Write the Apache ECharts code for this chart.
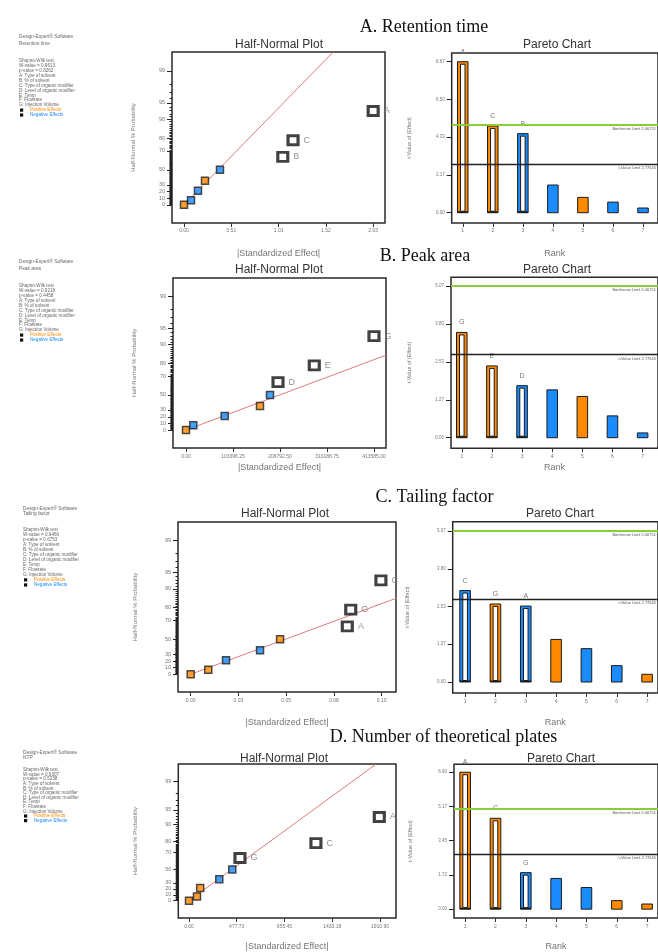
<!DOCTYPE html>
<html><head><meta charset="utf-8"><title>Half-normal and Pareto charts</title>
<script src="https://cdn.jsdelivr.net/npm/echarts@6.0.0/dist/echarts.min.js"></script>
<style>html,body{margin:0;padding:0;background:#fff;}#chart{width:658px;height:952px;}</style>
</head><body><div id="chart"></div>
<script>
// ================= DATA =================
const sectionTitles = ['A. Retention time', 'B. Peak area', 'C. Tailing factor', 'D. Number of theoretical plates'];
const responseNames = ['Retention time', 'Peak area', 'Tailing factor', 'NTP'];
const factorNames = ['A: Type of solvent', 'B: % of solvent', 'C: Type of organic modifier', 'D: Level of organic modifier', 'E: Temp', 'F: Flowrate', 'G: Injection Volume'];
const shapiroW = ['0.9613', '0.9218', '0.9466', '0.9307'];
const shapiroP = ['0.8262', '0.4458', '0.6753', '0.5238'];

const hnProbTicks = [0, 10, 20, 30, 50, 70, 80, 90, 95, 99];
const ranks = [1, 2, 3, 4, 5, 6, 7];
const tLimit = 2.77645;
const bonferroniLimit = 5.06751;
const selectedTerms = 3;

// A. Retention time
const hnEffectA = [0, 0.075, 0.15, 0.225, 0.386, 1.06, 1.17, 2.03];
const hnProbA = [0, 7.1, 21.4, 35.7, 50, 64.3, 78.6, 92.9];
const hnSignA = ['+', '-', '-', '+', '-', '-', '+', '+'];
const hnNameA = ['', '', '', '', '', 'B', 'C', 'A'];
const hnFitLineA = [[0, 0], [1.6, 99.67]];
const hnTickLabelsA = ['0.00', '0.51', '1.01', '1.52', '2.03'];
const hnTickStepA = 0.5075;
const paretoValueA = [8.67, 4.98, 4.54, 1.59, 0.88, 0.61, 0.27];
const paretoSignA = ['+', '+', '-', '-', '+', '-', '-'];
const paretoNameA = ['A', 'C', 'B', '', '', '', ''];
const paretoTickLabelsA = ['0.00', '2.17', '4.33', '6.50', '8.67'];
const paretoTickStepA = 2.1675;

// B. Peak area
const hnEffectB = [0, 16100, 85100, 162800, 184800, 202400, 282200, 413585];
const hnProbB = [0, 7.1, 21.4, 35.7, 50, 64.3, 78.6, 92.9];
const hnSignB = ['+', '-', '-', '+', '-', '-', '+', '+'];
const hnNameB = ['', '', '', '', '', 'D', 'E', 'G'];
const hnFitLineB = [[0, 0], [440000, 85.0]];
const hnTickLabelsB = ['0.00', '103396.25', '206792.50', '310188.75', '413585.00'];
const hnTickStepB = 103396.25;
const paretoValueB = [3.52, 2.40, 1.74, 1.60, 1.38, 0.73, 0.16];
const paretoSignB = ['+', '+', '-', '-', '+', '-', '-'];
const paretoNameB = ['G', 'E', 'D', '', '', '', ''];
const paretoTickLabelsB = ['0.00', '1.27', '2.53', '3.80', '5.07'];
const paretoTickStepB = 1.2675;

// C. Tailing factor
const hnEffectC = [0, 0.0092, 0.0185, 0.0363, 0.0468, 0.082, 0.0838, 0.0996];
const hnProbC = [0, 7.1, 21.4, 35.7, 50, 64.3, 78.6, 92.9];
const hnSignC = ['+', '+', '-', '-', '+', '-', '+', '-'];
const hnNameC = ['', '', '', '', '', 'A', 'G', 'C'];
const hnFitLineC = [[0, 0], [0.108, 85.8]];
const hnTickLabelsC = ['0.00', '0.03', '0.05', '0.08', '0.10'];
const hnTickStepC = 0.025;
const paretoValueC = [3.07, 2.62, 2.55, 1.43, 1.12, 0.55, 0.26];
const paretoSignC = ['-', '+', '-', '+', '-', '-', '+'];
const paretoNameC = ['C', 'G', 'A', '', '', '', ''];
const paretoTickLabelsC = ['0.00', '1.27', '2.53', '3.80', '5.07'];
const paretoTickStepC = 1.2675;

// D. Number of theoretical plates
const hnEffectD = [0, 80, 112, 303, 433, 510, 1270, 1904];
const hnProbD = [0, 7.1, 21.4, 35.7, 50, 64.3, 78.6, 92.9];
const hnSignD = ['+', '+', '+', '-', '-', '-', '+', '+'];
const hnNameD = ['', '', '', '', '', 'G', 'C', 'A'];
const hnFitLineD = [[0, 0], [1871, 99.68]];
const hnTickLabelsD = ['0.00', '477.73', '955.45', '1433.18', '1910.90'];
const hnTickStepD = 477.725;
const paretoValueD = [6.90, 4.58, 1.84, 1.55, 1.09, 0.43, 0.26];
const paretoSignD = ['+', '+', '-', '-', '-', '+', '+'];
const paretoNameD = ['A', 'C', 'G', '', '', '', ''];
const paretoTickLabelsD = ['0.00', '1.72', '3.45', '5.17', '6.90'];
const paretoTickStepD = 1.725;

// ================= BUILD =================
const rows = [
  {hnEffect: hnEffectA, hnProb: hnProbA, hnSign: hnSignA, hnName: hnNameA, hnLine: hnFitLineA, hnTickLabels: hnTickLabelsA, hnTickStep: hnTickStepA,
   parValue: paretoValueA, parSign: paretoSignA, parName: paretoNameA, parTickLabels: paretoTickLabelsA, parTickStep: paretoTickStepA},
  {hnEffect: hnEffectB, hnProb: hnProbB, hnSign: hnSignB, hnName: hnNameB, hnLine: hnFitLineB, hnTickLabels: hnTickLabelsB, hnTickStep: hnTickStepB,
   parValue: paretoValueB, parSign: paretoSignB, parName: paretoNameB, parTickLabels: paretoTickLabelsB, parTickStep: paretoTickStepB},
  {hnEffect: hnEffectC, hnProb: hnProbC, hnSign: hnSignC, hnName: hnNameC, hnLine: hnFitLineC, hnTickLabels: hnTickLabelsC, hnTickStep: hnTickStepC,
   parValue: paretoValueC, parSign: paretoSignC, parName: paretoNameC, parTickLabels: paretoTickLabelsC, parTickStep: paretoTickStepC},
  {hnEffect: hnEffectD, hnProb: hnProbD, hnSign: hnSignD, hnName: hnNameD, hnLine: hnFitLineD, hnTickLabels: hnTickLabelsD, hnTickStep: hnTickStepD,
   parValue: paretoValueD, parSign: paretoSignD, parName: paretoNameD, parTickLabels: paretoTickLabelsD, parTickStep: paretoTickStepD}
];

const layout = [
  { hn: {left: 172, top: 52, right: 385, bottom: 223, xMin: -0.129, xMax: 2.157, yMin: -0.35, yMax: 2.94, yNameGap: 36, xNameGap: 26, xLabelMargin: 5},
    par: {left: 451.7, top: 53, bottom: 223, xMin: 0.632, xMax: 7.499, yMin: -0.59, yMax: 9.17, yNameGap: 39, xNameGap: 26, xLabelMargin: 5},
    hnTitle: [279, 45], parTitle: [557, 45], title: [424, 27], legend: {x: 19, y0: 36.7, y1: 44, yS: 60.7, step: 4.94} },
  { hn: {left: 173, top: 278, right: 386, bottom: 448, xMin: -28600, xMax: 440000, yMin: -0.346, yMax: 2.923, yNameGap: 36, xNameGap: 15, xLabelMargin: 6},
    par: {left: 451, top: 277.3, bottom: 448.3, xMin: 0.642, xMax: 7.51, yMin: -0.354, yMax: 5.364, yNameGap: 39, xNameGap: 15, xLabelMargin: 6},
    hnTitle: [279, 270], parTitle: [557, 270], title: [425, 256], legend: {x: 19, y0: 261.7, y1: 269, yS: 285.7, step: 4.94} },
  { hn: {left: 178, top: 522, right: 396, bottom: 692, xMin: -0.00665, xMax: 0.1075, yMin: -0.341, yMax: 2.93, yNameGap: 40, xNameGap: 25.7, xLabelMargin: 6},
    par: {left: 452.7, top: 521.7, bottom: 693, xMin: 0.591, xMax: 7.36, yMin: -0.369, yMax: 5.383, yNameGap: 42, xNameGap: 25, xLabelMargin: 6},
    hnTitle: [285, 514], parTitle: [560, 514], title: [434.5, 497], legend: {x: 23, y0: 508.3, y1: 514, yS: 529.3, step: 5.06} },
  { hn: {left: 178.3, top: 764, right: 396, bottom: 921, xMin: -107, xMax: 2071, yMin: -0.375, yMax: 2.95, yNameGap: 40, xNameGap: 24, xLabelMargin: 6},
    par: {left: 454, top: 764.3, bottom: 921, xMin: 0.632, xMax: 7.36, yMin: -0.445, yMax: 7.30, yNameGap: 41, xNameGap: 24, xLabelMargin: 6},
    hnTitle: [284, 759], parTitle: [561, 759], title: [443.5, 737.5], legend: {x: 23, y0: 752.7, y1: 757.3, yS: 770, step: 4.6} }
];
const PAR_RIGHT = 668;

const POS = '#FF8A00', NEG = '#1A8CFF';
const SANS = '"Liberation Sans", Arial, sans-serif';
const SERIF = '"Liberation Serif", "Times New Roman", serif';
const SMALL = '#777';

// inverse standard normal CDF (Acklam)
function probit(p) {
  const a = [-3.969683028665376e+01, 2.209460984245205e+02, -2.759285104469687e+02, 1.383577518672690e+02, -3.066479806614716e+01, 2.506628277459239e+00];
  const b = [-5.447609879822406e+01, 1.615858368580409e+02, -1.556989798598866e+02, 6.680131188771972e+01, -1.328068155288572e+01];
  const c = [-7.784894002430293e-03, -3.223964580411365e-01, -2.400758277161838e+00, -2.549732539343734e+00, 4.374664141464968e+00, 2.938163982698783e+00];
  const d = [7.784695709041462e-03, 3.224671290700398e-01, 2.445134137142996e+00, 3.754408661907416e+00];
  const pl = 0.02425, ph = 1 - pl; let q, r;
  if (p < pl) { q = Math.sqrt(-2 * Math.log(p)); return (((((c[0]*q+c[1])*q+c[2])*q+c[3])*q+c[4])*q+c[5]) / ((((d[0]*q+d[1])*q+d[2])*q+d[3])*q+1); }
  if (p <= ph) { q = p - 0.5; r = q * q; return (((((a[0]*r+a[1])*r+a[2])*r+a[3])*r+a[4])*r+a[5])*q / (((((b[0]*r+b[1])*r+b[2])*r+b[3])*r+b[4])*r+1); }
  q = Math.sqrt(-2 * Math.log(1 - p)); return -(((((c[0]*q+c[1])*q+c[2])*q+c[3])*q+c[4])*q+c[5]) / ((((d[0]*q+d[1])*q+d[2])*q+d[3])*q+1);
}
// half-normal probability (%) -> axis position
const hnZ = pct => pct <= 0 ? 0 : probit(0.5 + pct / 200);
const majorZ = hnProbTicks.map(hnZ);
const minorZ = [];
for (let p = 1; p <= 99; p++) if (hnProbTicks.indexOf(p) < 0) minorZ.push(hnZ(p));

const option = { animation: false, textStyle: {fontFamily: SANS}, grid: [], xAxis: [], yAxis: [], series: [], graphic: [] };

function txt(text, x, y, size, color, opts) {
  opts = opts || {};
  return { type: 'text', silent: true, z: 10,
    style: Object.assign({ text: text, x: x, y: y, fontSize: size, fontFamily: opts.family || SANS, fill: color,
      textAlign: opts.align || 'left', align: opts.align || 'left', textVerticalAlign: 'middle', verticalAlign: 'middle' }, opts.style || {}) };
}

rows.forEach((d, r) => {
  const Ly = layout[r];
  const gHn = option.grid.length;
  option.grid.push({ left: Ly.hn.left, top: Ly.hn.top, width: Ly.hn.right - Ly.hn.left, height: Ly.hn.bottom - Ly.hn.top,
    show: true, borderColor: '#2a2a2a', borderWidth: 1.5, backgroundColor: '#fff' });
  const gPar = option.grid.length;
  option.grid.push({ left: Ly.par.left, top: Ly.par.top, width: PAR_RIGHT - Ly.par.left, height: Ly.par.bottom - Ly.par.top,
    show: true, borderColor: '#2a2a2a', borderWidth: 1.5, backgroundColor: '#fff' });

  // ---- half-normal axes ----
  const hnXTicks = d.hnTickLabels.map((_, i) => i * d.hnTickStep);
  const xHn = option.xAxis.length;
  option.xAxis.push({ type: 'value', gridIndex: gHn, min: Ly.hn.xMin, max: Ly.hn.xMax, splitLine: {show: false},
    axisLine: {show: false, onZero: false},
    axisTick: {show: true, inside: false, length: 4, customValues: hnXTicks, lineStyle: {color: '#333', width: 1}},
    axisLabel: {customValues: hnXTicks, margin: Ly.hn.xLabelMargin, fontSize: 5, color: SMALL,
      formatter: v => d.hnTickLabels[Math.round(v / d.hnTickStep)] || ''},
    name: '|Standardized Effect|', nameLocation: 'middle', nameGap: Ly.hn.xNameGap, nameTextStyle: {fontSize: 9, color: SMALL} });
  const yHn = option.yAxis.length;
  option.yAxis.push({ type: 'value', gridIndex: gHn, min: Ly.hn.yMin, max: Ly.hn.yMax, splitLine: {show: false},
    axisLine: {show: false, onZero: false},
    axisTick: {show: true, inside: false, length: 5, customValues: majorZ, lineStyle: {color: '#222', width: 1}},
    axisLabel: {customValues: majorZ, margin: 7, fontSize: 5.5, color: SMALL,
      formatter: v => { const i = majorZ.findIndex(z => Math.abs(z - v) < 1e-6); return i >= 0 ? String(hnProbTicks[i]) : ''; }},
    name: 'Half-Normal % Probability', nameLocation: 'middle', nameRotate: 90, nameGap: Ly.hn.yNameGap, nameTextStyle: {fontSize: 6, color: SMALL} });
  option.yAxis.push({ type: 'value', gridIndex: gHn, min: Ly.hn.yMin, max: Ly.hn.yMax, position: 'left', splitLine: {show: false},
    axisLine: {show: false, onZero: false},
    axisTick: {show: true, inside: false, length: 2.5, customValues: minorZ, lineStyle: {color: '#222', width: 1}},
    axisLabel: {show: false} });

  // fit line
  option.series.push({ type: 'line', xAxisIndex: xHn, yAxisIndex: yHn, data: d.hnLine.map(p => [p[0], hnZ(p[1])]),
    symbol: 'none', silent: true, clip: true, z: 2, lineStyle: {color: '#E07B7B', width: 1} });
  // points
  option.series.push({ type: 'scatter', xAxisIndex: xHn, yAxisIndex: yHn, symbol: 'rect', z: 5, silent: true,
    data: d.hnEffect.map((e, i) => {
      const big = d.hnName[i] !== '';
      return { value: [e, hnZ(d.hnProb[i])], name: d.hnName[i], symbolSize: big ? [10, 9] : 7,
        itemStyle: big ? {color: '#fff', borderColor: '#111', borderWidth: 3}
                       : {color: d.hnSign[i] === '+' ? POS : NEG, borderColor: '#222', borderWidth: 1.5},
        label: {show: big, position: 'right', distance: 4, formatter: '{b}', fontSize: 9, color: SMALL} };
    }) });

  // ---- pareto axes ----
  const parYTicks = d.parTickLabels.map((_, i) => i * d.parTickStep);
  const xPar = option.xAxis.length;
  option.xAxis.push({ type: 'value', gridIndex: gPar, min: Ly.par.xMin, max: Ly.par.xMax, splitLine: {show: false},
    axisLine: {show: false, onZero: false},
    axisTick: {show: true, inside: false, length: 4, customValues: ranks, lineStyle: {color: '#333', width: 1}},
    axisLabel: {customValues: ranks, margin: Ly.par.xLabelMargin, fontSize: 5, color: SMALL, formatter: v => String(Math.round(v))},
    name: 'Rank', nameLocation: 'middle', nameGap: Ly.par.xNameGap, nameTextStyle: {fontSize: 9, color: SMALL} });
  const yPar = option.yAxis.length;
  option.yAxis.push({ type: 'value', gridIndex: gPar, min: Ly.par.yMin, max: Ly.par.yMax, splitLine: {show: false},
    axisLine: {show: false, onZero: false},
    axisTick: {show: true, inside: false, length: 5, customValues: parYTicks, lineStyle: {color: '#222', width: 1}},
    axisLabel: {customValues: parYTicks, margin: 7, fontSize: 4.5, color: SMALL,
      formatter: v => d.parTickLabels[Math.round(v / d.parTickStep)] || ''},
    name: 't-Value of |Effect|', nameLocation: 'middle', nameRotate: 90, nameGap: Ly.par.yNameGap, nameTextStyle: {fontSize: 5.5, color: SMALL} });

  option.series.push({ type: 'custom', xAxisIndex: xPar, yAxisIndex: yPar, z: 4, silent: true,
    encode: {x: 0, y: 1},
    data: ranks.map((rk, i) => [rk, d.parValue[i]]),
    renderItem: (params, api) => {
      const i = params.dataIndex;
      const rk = api.value(0), v = api.value(1);
      const top = api.coord([rk, v]);
      const base = api.coord([rk, 0]);
      const w = api.size([1, 0])[0] * 0.35;
      const col = d.parSign[i] === '+' ? POS : NEG;
      const x0 = top[0] - w / 2, h = base[1] - top[1];
      const ch = [{ type: 'rect', shape: {x: x0, y: top[1], width: w, height: h}, style: {fill: col, stroke: '#1a1a1a', lineWidth: 1} }];
      if (i < selectedTerms) {
        ch.push({ type: 'rect', shape: {x: x0 + 3, y: top[1] + 2.5, width: w - 6, height: h - 4}, style: {fill: '#fff', stroke: '#1a1a1a', lineWidth: 1} });
        ch.push({ type: 'rect', shape: {x: x0, y: base[1] - 1.5, width: w, height: 1.5}, style: {fill: '#1a1a1a'} });
      }
      if (d.parName[i]) ch.push({ type: 'text', style: {text: d.parName[i], x: top[0], y: top[1] - 10, fontSize: 7, fontFamily: SANS, fill: SMALL,
        textAlign: 'center', align: 'center', textVerticalAlign: 'middle', verticalAlign: 'middle'} });
      return {type: 'group', children: ch};
    } });

  // limits
  option.series.push({ type: 'line', xAxisIndex: xPar, yAxisIndex: yPar, data: ranks.map((rk, i) => [rk, d.parValue[i]]),
    symbol: 'none', silent: true, z: 3, lineStyle: {width: 0, opacity: 0},
    markLine: { silent: true, symbol: 'none', animation: false,
      data: [
        { yAxis: bonferroniLimit, lineStyle: {color: '#8CCB3C', width: 2, type: 'solid'},
          label: {show: true, position: 'insideEndBottom', formatter: 'Bonferroni Limit ' + bonferroniLimit, fontSize: 4, color: '#555', distance: 2} },
        { yAxis: tLimit, lineStyle: {color: '#222', width: 1.3, type: 'solid'},
          label: {show: true, position: 'insideEndBottom', formatter: 't-Value Limit ' + tLimit, fontSize: 4, color: '#555', distance: 2} }
      ] } });

  // ---- texts ----
  option.graphic.push(txt(sectionTitles[r], Ly.title[0], Ly.title[1], 18, '#111', {family: SERIF, align: 'center'}));
  option.graphic.push(txt('Half-Normal Plot', Ly.hnTitle[0], Ly.hnTitle[1], 12, '#333', {align: 'center'}));
  option.graphic.push(txt('Pareto Chart', Ly.parTitle[0], Ly.parTitle[1], 12, '#333', {align: 'center'}));

  const lg = Ly.legend;
  option.graphic.push(txt('Design-Expert\u00AE Software', lg.x, lg.y0, 4.8, '#666'));
  option.graphic.push(txt(responseNames[r], lg.x, lg.y1, 4.8, '#666'));
  const lines = ['Shapiro-Wilk test', 'W-value = ' + shapiroW[r], 'p-value = ' + shapiroP[r]].concat(factorNames);
  lines.forEach((t, k) => option.graphic.push(txt(t, lg.x, lg.yS + k * lg.step, 4.6, '#666')));
  const kPos = lines.length, kNeg = lines.length + 1;
  [[kPos, 'Positive Effects', POS], [kNeg, 'Negative Effects', NEG]].forEach(([k, t, c]) => {
    const y = lg.yS + k * lg.step;
    option.graphic.push({ type: 'rect', silent: true, shape: {x: lg.x + 1, y: y - 1.6, width: 3.2, height: 3.2}, style: {fill: '#111'} });
    option.graphic.push(txt(t, lg.x + 11, y, 4.6, c));
  });
});

const chart = echarts.init(document.getElementById('chart'), null, {renderer: 'canvas'});
chart.setOption(option);
</script></body></html>
